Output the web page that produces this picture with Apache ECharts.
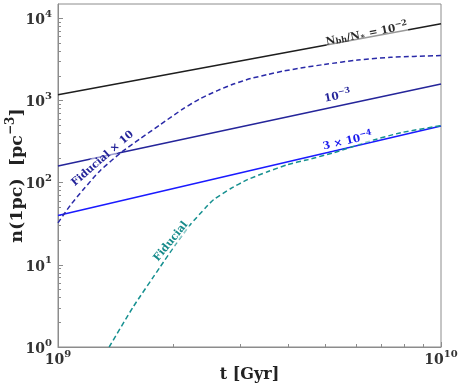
<!DOCTYPE html>
<html lang="en">
<head>
<meta charset="UTF-8">
<title>n(1pc) vs t</title>
<script src="https://cdn.jsdelivr.net/npm/echarts@6/dist/echarts.min.js"></script>
<style>html,body{margin:0;padding:0;background:#fff;}</style>
</head>
<body>
<div id="main" style="width:464px;height:388px;"></div>
<script>
// t in yr, n in pc^-3
var tLine = [1e9, 1e10];
var nBh1e2 = [1180, 8600];
var nBh1e3 = [160, 1590];
var nBh3e4 = [40, 490];

var tFid10 = [1.0e9, 1.075e9, 1.163e9, 1.288e9, 1.471e9, 1.64e9, 1.849e9, 2.125e9, 2.353e9, 2.608e9,
              2.871e9, 3.184e9, 3.524e9, 3.882e9, 4.303e9, 4.943e9, 6.067e9, 7.4e9, 1.0e10];
var nFid10 = [32.5, 52.5, 82, 140, 239, 344, 509, 798, 1057, 1324,
              1589, 1854, 2075, 2291, 2490, 2748, 3118, 3365, 3540];

var tFid = [1.36e9, 1.571e9, 1.849e9, 2.023e9, 2.215e9, 2.427e9, 2.547e9, 2.82e9, 3.124e9, 3.524e9,
            3.975e9, 4.484e9, 5.245e9, 6.44e9, 7.86e9, 1.0e10];
var nFid = [1.0, 3.07, 9.46, 17.5, 30.8, 49.5, 62.1, 84.5, 109, 136,
            166, 191, 232, 316, 407, 495];

var xMajor = [1e9, 1e10];
var yMajor = [1, 10, 100, 1000, 10000];
var xMinor = [];
var yMinor = [];
for (var k = 2; k <= 9; k++) xMinor.push(k * 1e9);
for (var e = 0; e <= 4; e++) {
    for (var k = 2; k <= 9; k++) {
        if (k * Math.pow(10, e) < 15000) yMinor.push(k * Math.pow(10, e));
    }
}

var serif = 'DejaVu Serif';
var axisGray = '#8c8c8c';
var labelColor = '#333';

function zip(xs, ys) {
    return xs.map(function (x, i) { return [x, ys[i]]; });
}
function pow10(v) {
    return '{b|10}{s|' + Math.round(Math.log10(v)) + '}';
}
var tickRich = {
    b: {fontFamily: serif, fontWeight: 'bold', fontSize: 14, color: labelColor, lineHeight: 18, verticalAlign: 'bottom'},
    s: {fontFamily: serif, fontWeight: 'bold', fontSize: 10, color: labelColor, lineHeight: 8, verticalAlign: 'top'}
};

var myChart = echarts.init(document.getElementById('main'));

var option = {
    backgroundColor: '#fff',
    animation: false,
    grid: {left: 58, right: 23, top: 4, bottom: 41, show: true, borderColor: axisGray, borderWidth: 1,
           outerBoundsMode: 'none', containLabel: false},
    xAxis: [
        {
            type: 'log', logBase: 10, min: 1e9, max: 1e10,
            name: 't [Gyr]', nameLocation: 'middle', nameGap: 20, nameMoveOverlap: false,
            nameTextStyle: {fontFamily: serif, fontWeight: 'bold', fontSize: 16, color: '#222'},
            axisLine: {lineStyle: {color: axisGray}},
            axisTick: {inside: true, length: 5, lineStyle: {color: axisGray}, customValues: xMajor},
            axisLabel: {margin: 2, formatter: pow10, rich: tickRich, customValues: xMajor},
            splitLine: {show: false}
        },
        {
            type: 'log', logBase: 10, min: 1e9, max: 1e10, position: 'bottom',
            axisLine: {show: false},
            axisTick: {inside: true, length: 3, lineStyle: {color: axisGray}, customValues: xMinor},
            axisLabel: {show: false},
            splitLine: {show: false}
        }
    ],
    yAxis: [
        {
            type: 'log', logBase: 10, min: 1, max: 15000,
            name: '{t|n(1pc)  [pc}{s|−3}{t|]}', nameLocation: 'middle', nameGap: 32, nameMoveOverlap: false,
            nameTextStyle: {
                rich: {
                    t: {fontFamily: serif, fontWeight: 'bold', fontSize: 17.5, color: '#222', lineHeight: 21, verticalAlign: 'bottom'},
                    s: {fontFamily: serif, fontWeight: 'bold', fontSize: 12, color: '#222', lineHeight: 10, verticalAlign: 'top'}
                }
            },
            axisLine: {lineStyle: {color: axisGray}},
            axisTick: {inside: true, length: 5, lineStyle: {color: axisGray}, customValues: yMajor},
            axisLabel: {margin: 6, formatter: pow10, rich: tickRich, customValues: yMajor},
            splitLine: {show: false}
        },
        {
            type: 'log', logBase: 10, min: 1, max: 15000, position: 'left',
            axisLine: {show: false},
            axisTick: {inside: true, length: 3, lineStyle: {color: axisGray}, customValues: yMinor},
            axisLabel: {show: false},
            splitLine: {show: false}
        }
    ],
    series: [
        {name: '1e-2', type: 'line', data: zip(tLine, nBh1e2), showSymbol: false,
         lineStyle: {color: '#1e1e1e', width: 1.5}},
        {name: '1e-3', type: 'line', data: zip(tLine, nBh1e3), showSymbol: false,
         lineStyle: {color: '#25259a', width: 1.5}},
        {name: '3e-4', type: 'line', data: zip(tLine, nBh3e4), showSymbol: false,
         lineStyle: {color: '#1a1aff', width: 1.5}},
        {name: 'Fiducial x 10', type: 'line', data: zip(tFid10, nFid10), showSymbol: false, smooth: 0.25,
         lineStyle: {color: '#2a2aa8', width: 1.5, type: [5, 3]}},
        {name: 'Fiducial', type: 'line', data: zip(tFid, nFid), showSymbol: false, smooth: 0.2,
         lineStyle: {color: '#169090', width: 1.5, type: [5, 3]}}
    ]
};
myChart.setOption(option);

// in-line labels, anchored (bottom centre) on the curves
var labels = [
    {at: [6.44e9, 5550], deg: 11, color: '#2a2a2a',
     text: '{t|N}{d|bh}{t|/N}{d|∗}{t| = 10}{u|−2}'},
    {at: [5.41e9, 972], deg: 12, color: '#25259a', text: '{t|10}{u|−3}'},
    {at: [5.75e9, 275], deg: 13, color: '#1a1aee', text: '{t|3 × 10}{u|−4}'},
    {at: [1.336e9, 175], deg: 41, color: '#25259a', text: '{t|Fiducial × 10}'},
    {at: [2.023e9, 17.5], deg: 51, color: '#168a8a', text: '{t|Fiducial}'}
];
var graphics = labels.map(function (l) {
    var p = myChart.convertToPixel({xAxisIndex: 0, yAxisIndex: 0}, l.at);
    return {
        type: 'text', x: p[0], y: p[1], rotation: l.deg * Math.PI / 180, z: 10,
        style: {
            text: l.text, align: 'center', verticalAlign: 'bottom',
            backgroundColor: 'rgba(255,255,255,0.55)',
            rich: {
                t: {fontFamily: serif, fontWeight: 'bold', fontSize: 10.5, fill: l.color, lineHeight: 13, verticalAlign: 'bottom'},
                u: {fontFamily: serif, fontWeight: 'bold', fontSize: 8, fill: l.color, lineHeight: 8, verticalAlign: 'top'},
                d: {fontFamily: serif, fontWeight: 'bold', fontSize: 8, fill: l.color, lineHeight: 10, verticalAlign: 'bottom'}
            }
        }
    };
});
myChart.setOption({graphic: graphics});
</script>
</body>
</html>
